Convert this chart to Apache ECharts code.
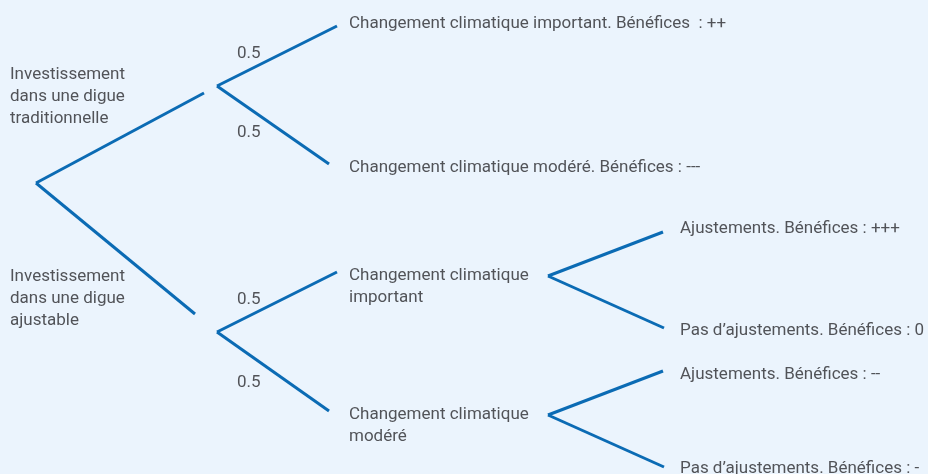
<!DOCTYPE html>
<html>
<head>
<meta charset="utf-8">
<script src="https://cdn.jsdelivr.net/npm/echarts@6/dist/echarts.min.js"></script>
<style>
  html, body { margin: 0; padding: 0; background: #ebf4fd; }
  #chart { width: 928px; height: 474px; }
</style>
</head>
<body>
<div id="chart"></div>
<script>
// 决策树文字数据
const rootOptions = [
  "Investissement\ndans une digue\ntraditionnelle",
  "Investissement\ndans une digue\najustable",
];
const climateOutcomes = [
  "Changement climatique important. Bénéfices  : ++",
  "Changement climatique modéré. Bénéfices : ---",
  "Changement climatique\nimportant",
  "Changement climatique\nmodéré",
];
const probabilities = [0.5, 0.5, 0.5, 0.5];
const adjustmentOutcomes = [
  "Ajustements. Bénéfices : +++",
  "Pas d’ajustements. Bénéfices : 0",
  "Ajustements. Bénéfices : --",
  "Pas d’ajustements. Bénéfices : -",
];

// 布局（轴坐标 = 画布像素）
const layout = {
  root: [36, 183],
  choiceNodes: [[217, 86], [217, 332]],
  choiceEnds: [[204, 93], [195, 314]],
  climateEnds: [[337, 26], [329, 164], [337, 272], [329, 411]],
  adjustNodes: [[548, 276], [548, 415]],
  adjustEnds: [[663, 232], [664, 328], [663, 371], [664, 467]],
  rootLabelPos: [[10, 95], [10, 297]],
  climateLabelPos: [[349, 22], [349, 166], [349, 285], [349, 424]],
  probLabelPos: [[237, 52], [237, 131], [237, 298], [237, 381]],
  adjustLabelPos: [[680, 227], [680, 329], [680, 373], [680, 467]],
};

const fontFamily = "Roboto, 'Liberation Sans', sans-serif";
const textColor = "#2a2a2e";
const lineColor = "#0b6bb4";

// 连线
const segments = [];
layout.choiceEnds.forEach((p) => segments.push({ coords: [layout.root, p] }));
layout.climateEnds.forEach((p, i) =>
  segments.push({ coords: [layout.choiceNodes[Math.floor(i / 2)], p] })
);
layout.adjustEnds.forEach((p, i) =>
  segments.push({ coords: [layout.adjustNodes[Math.floor(i / 2)], p] })
);

// 文字标签
const labelPoints = [];
rootOptions.forEach((t, i) => labelPoints.push({ name: t, value: layout.rootLabelPos[i] }));
climateOutcomes.forEach((t, i) => labelPoints.push({ name: t, value: layout.climateLabelPos[i] }));
probabilities.forEach((v, i) => labelPoints.push({ name: v.toFixed(1), value: layout.probLabelPos[i] }));
adjustmentOutcomes.forEach((t, i) => labelPoints.push({ name: t, value: layout.adjustLabelPos[i] }));

const chart = echarts.init(document.getElementById("chart"));
chart.setOption({
  backgroundColor: "#ebf4fd",
  animation: false,
  grid: { left: 0, right: 0, top: 0, bottom: 0 },
  xAxis: { type: "value", min: 0, max: 928, show: false },
  yAxis: { type: "value", min: 0, max: 474, inverse: true, show: false },
  series: [
    {
      type: "lines",
      coordinateSystem: "cartesian2d",
      silent: true,
      lineStyle: { color: lineColor, width: 3, opacity: 1, curveness: 0 },
      data: segments,
    },
    {
      type: "scatter",
      silent: true,
      symbolSize: 0,
      data: labelPoints,
      label: {
        show: true,
        position: "right",
        distance: 0,
        offset: [0, 2],
        formatter: (p) => p.name,
        color: textColor,
        fontFamily: fontFamily,
        fontSize: 17,
        lineHeight: 22,
        align: "left",
        verticalAlign: "middle",
      },
    },
  ],
});
</script>
</body>
</html>
